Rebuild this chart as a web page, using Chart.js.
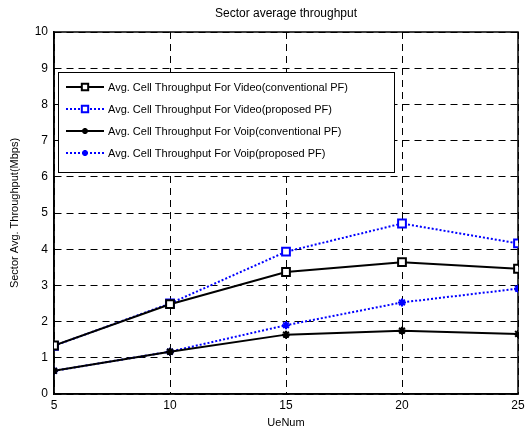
<!DOCTYPE html>
<html>
<head>
<meta charset="utf-8">
<script src="https://cdn.jsdelivr.net/npm/chart.js@4/dist/chart.umd.min.js"></script>
<style>
  html, body { margin: 0; padding: 0; background: #fff; }
  #wrap { width: 529px; height: 430px; }
</style>
</head>
<body>
<div id="wrap"><canvas id="myChart" width="529" height="430"></canvas></div>
<script>
const ueNum = [5, 10, 15, 20, 25];
const videoConv = [1.34, 2.48, 3.37, 3.64, 3.46];
const videoProp = [1.33, 2.50, 3.93, 4.71, 4.16];
const voipConv = [0.64, 1.17, 1.64, 1.75, 1.66];
const voipProp = [0.64, 1.17, 1.90, 2.53, 2.91];
const yTicks = [0, 1, 2, 3, 4, 5, 6, 7, 8, 9, 10];

const FONT = 'Liberation Sans, Arial, sans-serif';

function pts(arr) {
  return arr.map((v, i) => ({x: ueNum[i], y: v}));
}

// draws title and the boxed legend inside the plot, matlab style
const extras = {
  id: 'extras',
  afterDraw(chart) {
    const c = chart.ctx;
    const area = chart.chartArea;
    c.save();
    c.fillStyle = '#000';
    c.font = '12px ' + FONT;
    c.textAlign = 'center';
    c.textBaseline = 'middle';
    c.fillText('Sector average throughput', (area.left + area.right) / 2, 14);

    // legend box
    const bx = 58, by = 72, bw = 336, bh = 100;
    c.fillStyle = '#fff';
    c.fillRect(bx, by, bw, bh);
    c.strokeStyle = '#000';
    c.lineWidth = 1;
    c.strokeRect(bx + 0.5, by + 0.5, bw, bh);

    chart.data.datasets.forEach((ds, i) => {
      const y = by + 15 + i * 22;
      c.strokeStyle = ds.borderColor;
      c.lineWidth = ds.borderWidth;
      c.setLineDash(ds.borderDash || []);
      c.beginPath();
      c.moveTo(66, y);
      c.lineTo(104, y);
      c.stroke();
      c.setLineDash([]);
      c.fillStyle = ds.pointBackgroundColor;
      c.strokeStyle = ds.pointBorderColor;
      Chart.helpers.drawPoint(c, {
        pointStyle: ds.pointStyle,
        radius: ds.pointRadius - 1,
        borderWidth: ds.pointBorderWidth,
        rotation: 0
      }, 85, y);
      c.fillStyle = '#000';
      c.font = '11px ' + FONT;
      c.textAlign = 'left';
      c.fillText(ds.label, 108, y + 1);
    });
    c.restore();
  }
};

const ctx = document.getElementById('myChart').getContext('2d');
const chart = new Chart(ctx, {
  type: 'line',
  data: {
    datasets: [{
      label: 'Avg. Cell Throughput For Video(conventional PF)',
      data: pts(videoConv),
      borderColor: '#000',
      borderWidth: 2,
      pointStyle: 'rect',
      pointRadius: 5.5,
      pointBorderWidth: 2,
      pointBorderColor: '#000',
      pointBackgroundColor: '#fff'
    }, {
      label: 'Avg. Cell Throughput For Video(proposed PF)',
      data: pts(videoProp),
      borderColor: '#0000ff',
      borderWidth: 2,
      borderDash: [2, 2],
      pointStyle: 'rect',
      pointRadius: 5.5,
      pointBorderWidth: 2,
      pointBorderColor: '#0000ff',
      pointBackgroundColor: '#fff'
    }, {
      label: 'Avg. Cell Throughput For Voip(conventional PF)',
      data: pts(voipConv),
      borderColor: '#000',
      borderWidth: 2,
      pointStyle: 'star',
      pointRadius: 4,
      pointBorderWidth: 2,
      pointBorderColor: '#000',
      pointBackgroundColor: '#000'
    }, {
      label: 'Avg. Cell Throughput For Voip(proposed PF)',
      data: pts(voipProp),
      borderColor: '#0000ff',
      borderWidth: 2,
      borderDash: [2, 2],
      pointStyle: 'star',
      pointRadius: 4,
      pointBorderWidth: 2,
      pointBorderColor: '#0000ff',
      pointBackgroundColor: '#0000ff'
    }]
  },
  options: {
    responsive: false,
    animation: false,
    layout: { padding: { top: 32, right: 11, left: 0, bottom: 0 } },
    plugins: {
      legend: { display: false },
      tooltip: { enabled: false }
    },
    scales: {
      x: {
        type: 'linear',
        min: 5,
        max: 25,
        afterBuildTicks: (s) => { s.ticks = ueNum.map(v => ({value: v})); },
        afterFit: (s) => { s.height = 36; },
        grid: {
          color: '#000',
          lineWidth: 1,
          drawTicks: false
        },
        border: { color: '#000', width: 1.5, dash: [7, 5] },
        ticks: {
          color: '#000',
          padding: 4,
          font: { family: FONT, size: 12 }
        },
        title: {
          display: true,
          text: 'UeNum',
          color: '#000',
          padding: { top: 2, bottom: 0 },
          font: { family: FONT, size: 11 }
        }
      },
      y: {
        min: 0,
        max: 10,
        afterBuildTicks: (s) => { s.ticks = yTicks.map(v => ({value: v})); },
        afterFit: (s) => { s.width = 54; },
        grid: {
          color: '#000',
          lineWidth: 1,
          drawTicks: false
        },
        border: { color: '#000', width: 1.5, dash: [7, 5] },
        ticks: {
          color: '#000',
          padding: 6,
          font: { family: FONT, size: 12 }
        },
        title: {
          display: true,
          text: 'Sector Avg. Throughput(Mbps)',
          color: '#000',
          padding: { top: 8, bottom: 2 },
          font: { family: FONT, size: 11 }
        }
      }
    }
  },
  plugins: [{
    id: 'frame',
    beforeDatasetsDraw(chart) {
      const c = chart.ctx, a = chart.chartArea;
      c.save();
      c.strokeStyle = '#000';
      c.lineWidth = 1.5;
      c.setLineDash([]);
      c.strokeRect(a.left, a.top, a.right - a.left, a.bottom - a.top);
      c.restore();
    }
  }, extras]
});
</script>
</body>
</html>
